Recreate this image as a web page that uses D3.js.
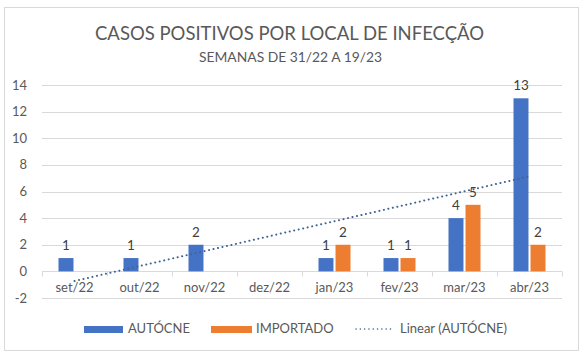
<!DOCTYPE html>
<html><head><meta charset="utf-8">
<script src="https://cdn.jsdelivr.net/npm/d3@7"></script>
<style>
body{margin:0;background:#fff;}
text{font-family:Lato,"Open Sans",sans-serif;}
</style></head>
<body><svg id="c" width="586" height="361"></svg>
<script>
const categories = ["set/22","out/22","nov/22","dez/22","jan/23","fev/23","mar/23","abr/23"];
const autocne   = [1, 1, 2, null, 1, 1, 4, 13];
const importado = [null, null, null, null, 2, 1, 5, 2];
const seriesNames = ["AUTÓCNE", "IMPORTADO"];
const yTicks = [-2, 0, 2, 4, 6, 8, 10, 12, 14];
const title = "CASOS POSITIVOS POR LOCAL DE INFECÇÃO";
const subtitle = "SEMANAS DE 31/22 A 19/23";

const colors = ["#4472C4", "#ED7D31"];
const trendColor = "#3F6596";
const textColor = "#595959";

const svg = d3.select("#c");
svg.append("rect").attr("x",4.5).attr("y",7.5).attr("width",574).attr("height",343)
  .attr("fill","#fff").attr("stroke","#D9D9D9");

svg.append("text").attr("x",289.5).attr("y",40).attr("text-anchor","middle")
  .attr("font-size",19.5).attr("fill",textColor).attr("textLength",389).attr("lengthAdjust","spacingAndGlyphs").text(title);
svg.append("text").attr("x",290.5).attr("y",62).attr("text-anchor","middle")
  .attr("font-size",14).attr("fill",textColor).attr("textLength",183).attr("lengthAdjust","spacingAndGlyphs").text(subtitle);

const left = 42, right = 562;
const y = d3.scaleLinear().domain([-2, 14]).range([298, 85]);
const x = d3.scaleBand().domain(categories).range([left, right]).paddingInner(0).paddingOuter(0);
const sub = d3.scaleBand().domain([0,1]).range([16.5, 65-16.5]).paddingInner(0.12);

// gridlines
svg.append("g").selectAll("line").data(yTicks.filter(d=>d!==0)).join("line")
  .attr("x1",left).attr("x2",right).attr("y1",d=>Math.round(y(d))+0.5).attr("y2",d=>Math.round(y(d))+0.5)
  .attr("stroke","#D9D9D9").attr("stroke-width",1);

// y labels
svg.append("g").selectAll("text").data(yTicks).join("text")
  .attr("x",27).attr("y",d=>y(d)+4.5).attr("text-anchor","end")
  .attr("font-size",13).attr("fill",textColor).text(d=>d);

// zero axis
const y0 = Math.round(y(0))+0.5;
svg.append("line").attr("x1",left).attr("x2",right).attr("y1",y0).attr("y2",y0).attr("stroke","#D9D9D9");
svg.append("g").selectAll("line").data(d3.range(categories.length+1)).join("line")
  .attr("x1",i=>Math.round(left+i*x.step())+0.5).attr("x2",i=>Math.round(left+i*x.step())+0.5)
  .attr("y1",y0).attr("y2",y0+5).attr("stroke","#D9D9D9");

// x labels
svg.append("g").selectAll("text").data(categories).join("text")
  .attr("x",d=>x(d)+x.bandwidth()/2).attr("y",292).attr("text-anchor","middle")
  .attr("font-size",13).attr("fill",textColor).text(d=>d);

// bars
[autocne, importado].forEach((vals, si) => {
  const data = categories.map((c,i)=>({c, v: vals[i]})).filter(d=>d.v!==null);
  svg.append("g").selectAll("rect").data(data).join("rect")
    .attr("x",d=>x(d.c)+sub(si)).attr("width",sub.bandwidth())
    .attr("y",d=>y(Math.max(0,d.v))).attr("height",d=>Math.abs(y(d.v)-y(0)))
    .attr("fill",colors[si]);
  svg.append("g").selectAll("text").data(data).join("text")
    .attr("x",d=>x(d.c)+sub(si)+sub.bandwidth()/2).attr("y",d=>y(d.v)-8)
    .attr("text-anchor","middle").attr("font-size",13.5).attr("fill","#404040").text(d=>d.v);
});

// linear trend of AUTÓCNE (least squares, blanks ignored)
const pts = autocne.map((v,i)=>[i+1,v]).filter(p=>p[1]!==null);
const mx = d3.mean(pts,p=>p[0]), my = d3.mean(pts,p=>p[1]);
const slope = d3.sum(pts,p=>(p[0]-mx)*(p[1]-my))/d3.sum(pts,p=>(p[0]-mx)**2);
const icpt = my - slope*mx;
const xPos = k => left + (k-0.5)*x.step();
svg.append("line")
  .attr("x1",xPos(1)).attr("y1",y(icpt+slope*1))
  .attr("x2",xPos(8)).attr("y2",y(icpt+slope*8))
  .attr("stroke",trendColor).attr("stroke-width",2).attr("stroke-dasharray","0.1,4.5").attr("stroke-linecap","round");

// legend
const ly = 333;
svg.append("rect").attr("x",84).attr("y",ly-7).attr("width",39).attr("height",7).attr("fill",colors[0]);
svg.append("text").attr("x",128).attr("y",ly).attr("font-size",13).attr("fill",textColor).text(seriesNames[0]);
svg.append("rect").attr("x",211).attr("y",ly-7).attr("width",41).attr("height",7).attr("fill",colors[1]);
svg.append("text").attr("x",256).attr("y",ly).attr("font-size",13).attr("fill",textColor).text(seriesNames[1]);
svg.append("line").attr("x1",356).attr("x2",394).attr("y1",ly-4).attr("y2",ly-4)
  .attr("stroke",trendColor).attr("stroke-width",1.5).attr("stroke-dasharray","0.1,4.2").attr("stroke-linecap","round");
svg.append("text").attr("x",400).attr("y",ly).attr("font-size",13).attr("fill",textColor).text("Linear (" + seriesNames[0] + ")");
</script></body></html>
